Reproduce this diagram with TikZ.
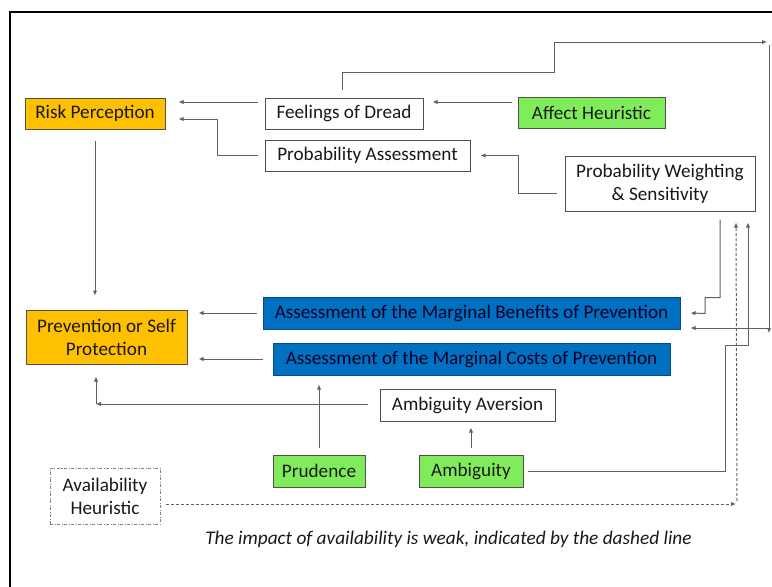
\documentclass[tikz,border=0pt]{standalone}
\usepackage{fontspec}
\setmainfont{Carlito}
\usetikzlibrary{arrows.meta}
\definecolor{boxorange}{HTML}{FFC000}
\definecolor{boxgreen}{HTML}{80EC5C}
\definecolor{boxblue}{HTML}{0070C0}
\definecolor{linegray}{HTML}{606060}
\definecolor{edgegray}{HTML}{505050}
\begin{document}
\begin{tikzpicture}[
	x=1pt, y=-1pt,
	box/.style={ draw=edgegray, line width=1pt, inner sep=0pt, minimum height=31pt, align=center, text=black!90, font=\fontsize{19.2}{23}\selectfont },
	boxo/.style={ box, fill=boxorange },
	boxg/.style={ box, fill=boxgreen },
	boxb/.style={ box, fill=boxblue, draw=boxblue!70!black, text=black!85!blue },
	boxw/.style={ box, fill=white },
	boxd/.style={ box, draw=gray, dash pattern=on 3pt off 1.5pt on 1pt off 1.5pt },
	arr/.style={ -{Latex[length=5pt,width=4.5pt]}, draw=linegray, line width=1pt }
]

\clip (0,0) rectangle (772,587);
\draw[line width=2pt] (10,12) rectangle (800,620);

\node at (95,113.5) (RP) [boxo, minimum width=140pt] {Risk Perception};
\node at (344,113.5) (FoD) [boxw, minimum width=158pt] {Feelings of Dread};
\node at (367.5,155.5) (PA) [boxw, minimum width=205pt] {Probability Assessment};
\node at (591.5,112.5) (AH) [boxg, minimum width=147pt] {Affect Heuristic};
\node at (660,183.5) (PW) [boxw, minimum width=190pt, minimum height=55pt] {Probability Weighting\\\& Sensitivity};
\node at (106.5,337) (PSP) [boxo, minimum width=161pt, minimum height=54pt] {Prevention or Self\\Protection};
\node at (471.5,313) (Ben) [boxb, minimum width=417pt, minimum height=32pt] {Assessment of the Marginal Benefits of Prevention};
\node at (471.5,359) (Cost) [boxb, minimum width=397pt, minimum height=32pt] {Assessment of the Marginal Costs of Prevention};
\node at (467.5,405) (AA) [boxw, minimum width=175pt, minimum height=32pt] {Ambiguity Aversion};
\node at (319,471) (Pru) [boxg, minimum width=92pt, minimum height=32pt] {Prudence};
\node at (471,471) (Amb) [boxg, minimum width=104pt, minimum height=32pt] {Ambiguity};
\node at (105,496) (AvH) [boxd, minimum width=110pt, minimum height=56pt] {Availability\\Heuristic};
\node at (448.5,539) (note) [font=\fontsize{19.3}{23}\selectfont\itshape, text=black!90] {The impact of availability is weak, indicated by the dashed line};

\coordinate (TR) at (769,42);
\coordinate (BR) at (769,328);
\coordinate (DC) at (737,504);
\coordinate (AC) at (96,404);

\draw[arr] ([yshift=11.5pt,xshift=-7pt]FoD.west) -- ([yshift=11.5pt,xshift=13pt]RP.east);
\draw[arr] ([xshift=-7pt]PA.west) -- ++(-40,0) |- ([xshift=13pt,yshift=-5.5pt]RP.east);
\draw[arr] ([yshift=10.5pt,xshift=-6pt]AH.west) -- ([yshift=11.5pt,xshift=9pt]FoD.east);
\draw[arr] ([xshift=-8pt,yshift=-9.5pt]PW.west) -| ([xshift=48pt]PA.east) -- ([xshift=10pt]PA.east);
\draw[arr] ([xshift=-2pt,yshift=8pt]FoD.north) |- (554,72) |- ([xshift=-2pt]TR);
\draw[arr] ([yshift=-3pt]TR) -- ([yshift=-5pt]BR);
\draw[arr] (BR) -- ([xshift=10pt,yshift=-15pt]Ben.east);
\draw[arr] ([xshift=60pt,yshift=-8pt]PW.south) -- ++(0,78) -| ++(-15,16) -- ([xshift=10pt]Ben.east);
\draw[arr] ([xshift=4pt]Amb.east) -| (725,345) -| ([xshift=88pt,yshift=-11pt]PW.south);
\draw[arr, dash pattern=on 3pt off 2pt] ([xshift=5pt,yshift=-8pt]AvH.east) -- ([xshift=-1pt]DC);
\draw[arr, dash pattern=on 3pt off 2pt] ([yshift=3pt]DC) -- ([xshift=76pt,yshift=-11pt]PW.south);
\draw[arr] ([yshift=-11pt]RP.south) -- ([xshift=-11.5pt,yshift=14pt]PSP.north);
\draw[arr] ([xshift=-6pt]Ben.west) -- ([xshift=11pt,yshift=24pt]PSP.east);
\draw[arr] ([xshift=-10pt]Cost.west) -- ([xshift=11pt,yshift=-22pt]PSP.east);
\draw[arr] ([xshift=-12pt,yshift=1pt]AA.west) -- (AC);
\draw[arr] (AC) -- ([xshift=-10.5pt,yshift=-12pt]PSP.south);
\draw[arr] ([yshift=7pt]Pru.north) -- ([xshift=-152.5pt,yshift=-9pt]Cost.south);
\draw[arr] ([yshift=7pt]Amb.north) -- ([xshift=3.5pt,yshift=-6pt]AA.south);

\end{tikzpicture}
\end{document}
